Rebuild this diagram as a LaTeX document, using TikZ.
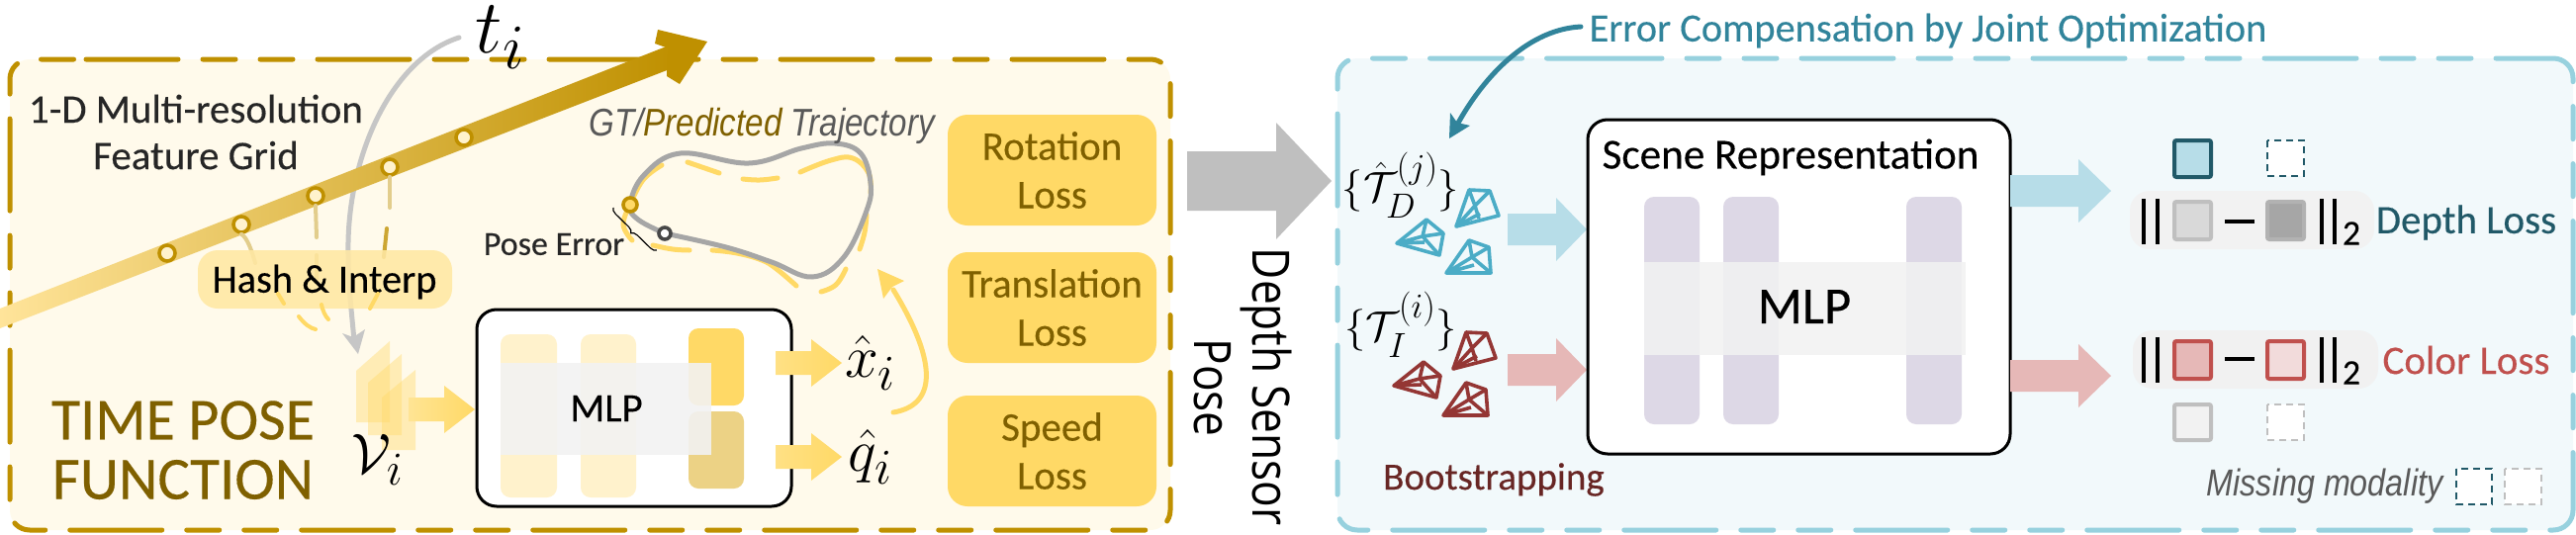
\documentclass[tikz,border=0pt]{standalone}
\usepackage[no-math]{fontspec}
\usepackage{amsmath}
\usepackage{graphicx}
\setmainfont[FakeBold=0.25]{Carlito}
\newfontfamily\narrowit[FakeStretch=0.85]{Liberation Sans}
\newfontfamily\rotfont[FakeStretch=0.85]{Open Sans}
\usetikzlibrary{decorations.pathreplacing,calc}
\definecolor{goldd}{HTML}{BF9000}
\definecolor{goldm}{HTML}{DDBB60}
\definecolor{goldl}{HTML}{FFE49A}
\definecolor{goldt}{HTML}{7F6000}
\definecolor{yel}{HTML}{FFD966}
\definecolor{yell}{HTML}{FFF2CC}
\definecolor{teal}{HTML}{31849B}
\definecolor{tealdk}{HTML}{215968}
\definecolor{tealb}{HTML}{B7DDE8}
\definecolor{teald}{HTML}{97D1DE}
\definecolor{redl}{HTML}{E6B8B7}
\definecolor{redd}{HTML}{C0504D}
\definecolor{camb}{HTML}{4BACC6}
\definecolor{camr}{HTML}{943634}
\definecolor{gryd}{HTML}{595959}
\definecolor{lilac}{HTML}{DDD8E6}
\newcommand{\bigmath}[2]{\scalebox{#1}{\Huge$#2$}}
\tikzset{
  dashgold/.style={line width=2.5pt,line cap=round,dash pattern=on 46.5pt off 12.5pt on 16.5pt off 12.5pt on 16.5pt off 12.5pt},
  lbl/.style={inner sep=0pt,outer sep=0pt,anchor=center},
  dot/.style={circle,draw=goldd,line width=1.8pt,fill=yell,minimum size=8pt,inner sep=0pt},
  tinylink/.style={line width=2pt,line cap=round},
  trajdash/.style={line width=2.5pt,draw=yel,line cap=round},
  camline/.style={line width=1.8pt,line join=round},
  sq/.style={rounded corners=1pt,line width=2pt},
  dsq/.style={line width=1pt,dash pattern=on 3.5pt off 2.5pt,fill=white},
  normbar/.style={line width=2pt,draw=black},
}
% block arrow: x-start, x-neck, x-tip, y-centre, half shaft, half head
\newcommand{\blockarrow}[7][]{%
  \path[#1,shift={(0,#5)}] (#2,-#6) -- (#3,-#6) -- (#3,-#7) -- (#4,0) -- (#3,#7) -- (#3,#6) -- (#2,#6) -- cycle;}
\newcommand{\camera}[3]{%
 \begin{scope}[shift={(#1,#2)},camline,draw=#3]
  \draw (1485,192) -- (1506,193) -- (1515,218) -- (1472,229) -- cycle;
  \draw (1485,192) -- (1491,208) (1506,193) -- (1491,208) (1472,229) -- (1491,208) (1491,208) -- (1495,221) (1472,229) -- (1496,216);
  \draw (1442,222) -- (1459,236) -- (1455,258) -- (1412,246) -- cycle;
  \draw (1442,222) -- (1438,239) (1459,236) -- (1438,239) (1412,246) -- (1438,239) (1438,239) -- (1455,258) (1412,246) -- (1440,245);
  \draw (1485,243) -- (1505,250) -- (1507,276) -- (1462,276) -- cycle;
  \draw (1485,243) -- (1488,260) (1505,250) -- (1488,260) (1462,276) -- (1488,260) (1488,260) -- (1507,276) (1462,276) -- (1490,268);
 \end{scope}}
\begin{document}
\begin{tikzpicture}[x=0.5pt,y=-0.5pt]
\useasboundingbox (0,0) rectangle (2604,541);
% ---- panels
\fill[rounded corners=10pt,fill=yell!40!white] (10,60) rectangle (1183,536);
\draw[dashgold,draw=goldd,rounded corners=10pt] (87,60) -- (1183,60) -- (1183,536) -- (10,536) -- (10,60) -- (87,60);
\fill[rounded corners=10pt,fill=tealb!18!white] (1352,59) rectangle (2601,536);
\draw[dashgold,draw=teald,rounded corners=10pt] (1587,59) -- (2601,59) -- (2601,536) -- (1352,536) -- (1352,59) -- (1587,59);

% ---- t_i input
\node[lbl] (ti) at (506,38) {\bigmath{1.55}{t_i}};
\coordinate (vin) at (362,358);
\draw[draw=gray!45,line width=2.5pt,line cap=round] (464,38) .. controls (395,60) and (350,160) .. (352,257) .. controls (352,290) and (356,320) .. (358,345);
\fill[gray!45] (vin) -- (346,337) -- (357,341) -- (369,333) -- cycle;

% ---- time axis
\shade[left color=goldl,middle color=goldm,right color=goldd] (0,312) -- (676,46) -- (682,68) -- (0,332) -- cycle;
\fill[goldd] (715,42) -- (665,30) -- (662,44) -- (676,49) -- (674,62) -- (674,77) -- (687,85) -- cycle;
\foreach \n/\px/\py in {a/169/256,b/244/227,c/319/198,d/394/169,e/469/139}{
  \node[dot] (\n) at (\px,\py) {};
}
\draw[tinylink,draw=goldd!45!white] (b.south) .. controls (250,240) and (255,255) .. (258,266);
\draw[tinylink,draw=goldd!45!white] (c.south) -- (320,240);
\draw[tinylink,draw=goldd!45!white] (d.south) -- (394,210);
\draw[tinylink,draw=goldd!80!white] (391,231) -- (388,260);
\draw[tinylink,draw=goldd!60!white] (320,258) -- (320,285);

% ---- hash box
\fill[rounded corners=10pt,fill=yel!60!white,fill opacity=.88] (200,253) rectangle (457,312);
\node[lbl] (hash) at (328,285) {\fontsize{20.2}{21}\selectfont Hash \& Interp};
\draw[tinylink,draw=yel] (281,297) -- (287,307);
\draw[tinylink,draw=yel] (382,297) -- (374,312);
\draw[tinylink,draw=yel] (302,320) .. controls (308,328) and (314,332) .. (319,333);
\draw[tinylink,draw=yel] (325,308) .. controls (326,314) and (329,320) .. (332,323);

% ---- captions left
\node[lbl,text=black!85] (g1) at (198,110) {\fontsize{20.5}{21}\selectfont 1-D Multi-resolution};
\node[lbl,text=black!85] (g2) at (198,157) {\fontsize{20.5}{21}\selectfont Feature Grid};
\node[lbl,text=goldt] (f1) at (185,425) {\fontsize{30}{30}\selectfont TIME POSE};
\node[lbl,text=goldt] (f2) at (185,485) {\fontsize{30.5}{30}\selectfont FUNCTION};

% ---- V stack
\fill[yel,opacity=.4] (360,375) -- (394,345) -- (394,427) -- (360,427) -- cycle;
\fill[yel,opacity=.4] (372,387) -- (406,358) -- (406,440) -- (372,440) -- cycle;
\fill[yel,opacity=.4] (386,402) -- (420,374) -- (420,455) -- (386,455) -- cycle;
\node[lbl] (vi) at (382,465) {\bigmath{1.15}{\mathcal{V}_i}};
\blockarrow[left color=yel!70!white,right color=yel]{413}{449}{480}{414}{12}{24}

% ---- time MLP
\draw[fill=white,line width=1.5pt,rounded corners=10pt] (482,313) rectangle (800,512);
\fill[yell,rounded corners=5pt] (506,338) rectangle (563,503);
\fill[yell,rounded corners=5pt] (587,338) rectangle (643,503);
\fill[yel,rounded corners=5pt] (696,332) rectangle (752,410);
\fill[yel!50!goldd!60!white,rounded corners=5pt] (696,416) rectangle (752,494);
\fill[gray!10,fill opacity=.9] (506,367) rectangle (719,460);
\node[lbl] (tmlp) at (613,413) {\fontsize{20.5}{21}\selectfont MLP};
\blockarrow[left color=yel!80!white,right color=yel]{784}{820}{851}{367}{12}{24}
\blockarrow[left color=yel!80!white,right color=yel]{784}{820}{851}{462}{12}{24}
\node[lbl] (xh) at (880,367) {\bigmath{1.22}{\hat{x}_i}};
\node[lbl] (qh) at (880,462) {\bigmath{1.22}{\hat{q}_i}};

% ---- trajectory
\draw[trajdash] plot[smooth,tension=.7] coordinates {(637,207) (630,227) (639,243)};
\draw[trajdash] plot[smooth,tension=.7] coordinates {(637,207) (650,182) (669,167)};
\draw[trajdash] (695,164) -- (727,175);
\draw[trajdash] plot[smooth,tension=.7] coordinates {(751,181) (768,182) (786,180)};
\draw[trajdash] plot[smooth,tension=.7] coordinates {(809,174) (840,162) (862,160) (878,175) (880,195)};
\draw[trajdash] plot[smooth,tension=.7] coordinates {(876,217) (874,235) (869,252)};
\draw[trajdash] plot[smooth,tension=.7] coordinates {(855,272) (845,288) (830,295)};
\draw[trajdash] plot[smooth,tension=.7] coordinates {(805,289) (785,272) (770,263) (745,256) (720,253)};
\draw[trajdash] plot[smooth,tension=.7] coordinates {(697,253) (680,252) (660,248)};
\draw[line width=2.5pt,draw=gray!70] plot[smooth,tension=.65] coordinates {(672,236) (645,222) (637,207) (651,177) (688,155) (757,165) (810,150) (844,145) (870,155) (880,185) (876,213) (853,260) (821,280) (780,265) (734,250) (672,236)};
\node[circle,draw=goldd,line width=1.8pt,fill=yel,minimum size=7pt,inner sep=0pt] (gp) at (637,207) {};
\node[circle,draw=gryd!80!black,line width=1.8pt,fill=white,minimum size=6pt,inner sep=0pt] (pp) at (672,236) {};
\draw[decorate,decoration={brace,amplitude=3pt,mirror},line width=.6pt] (620,210) -- (664,253);
\node[lbl,text=black!85] (perr) at (560,247) {\fontsize{17}{18}\selectfont Pose Error};
\node[lbl] (gt) at (770,127) {\fontsize{19.5}{20}\selectfont\narrowit\itshape\textcolor{gryd}{GT/}\textcolor{goldt}{Predicted} \textcolor{gryd}{Trajectory}};

% ---- losses
\coordinate (qout) at (903,417);
\coordinate (trj) at (887,272);
\draw[draw=yel,line width=2.5pt,line cap=round] (qout) .. controls (945,410) and (950,370) .. (903,293);
\fill[yel] (trj) -- (914,284) -- (902,290) -- (893,302) -- cycle;
\foreach \n/\ya/\yb/\ta/\tb in {rot/116/228/Rotation/Loss,tra/255/367/Translation/Loss,spd/400/512/Speed/Loss}{
  \fill[yel,rounded corners=10pt] (958,\ya) rectangle (1169,\yb);
  \node[lbl,text=goldt,align=center,font=\fontsize{20.5}{24.5}\selectfont] (\n) at ($(958,\ya)!.5!(1169,\yb)$) {\ta\\\tb};
}

% ---- depth sensor pose
\blockarrow[fill=gray!50]{1200}{1290}{1346}{183}{30}{59}
\node[lbl,rotate=-90,text=black] (dsp) at (1280,391) {\fontsize{26}{26}\rotfont Depth Sensor};
\node[lbl,rotate=-90,text=black] (pose) at (1226,392) {\fontsize{26}{26}\rotfont Pose};

% ---- error compensation
\node[lbl,text=teal] (ec) at (1949,31) {\fontsize{20.2}{21}\selectfont Error Compensation by Joint Optimization};
\draw[draw=teal,line width=2.5pt,line cap=round] (1598,27) .. controls (1540,30) and (1495,85) .. (1472,128);
\fill[teal] (1465,140) -- (1466,114) -- (1473,124) -- (1486,127) -- cycle;

% ---- pose sets
\node[lbl] (td) at (1416,187) {\bigmath{.85}{\{\hat{\mathcal{T}}_D^{(j)}\}}};
\node[lbl] (ti2) at (1416,328) {\bigmath{.85}{\{\mathcal{T}_I^{(i)}\}}};
\camera{0}{0}{camb}
\camera{-3}{144}{camr}
\node[lbl,text=camr!70!black] (boot) at (1510,485) {\fontsize{19.5}{20}\selectfont Bootstrapping};
\blockarrow[fill=tealb]{1524}{1573}{1604}{232}{16}{32}
\blockarrow[fill=redl]{1524}{1573}{1604}{374}{16}{32}

% ---- scene representation
\draw[fill=white,line width=1.5pt,rounded corners=10pt] (1605,121) rectangle (2032,459);
\node[lbl] (sr) at (1810,159) {\fontsize{21.6}{22}\selectfont Scene Representation};
\foreach \xa/\xb in {1662/1718,1742/1798,1927/1983}{
  \fill[lilac,rounded corners=5pt] (\xa,199) rectangle (\xb,429);
}
\fill[gray!10,fill opacity=.85] (1662,265) rectangle (1987,359);
\node[lbl] (smlp) at (1824,310) {\fontsize{26.4}{27}\selectfont MLP};
\blockarrow[fill=tealb]{2032}{2101}{2134}{193}{16}{32}
\blockarrow[fill=redl]{2032}{2101}{2134}{380}{16}{32}

% ---- depth loss
\fill[gray!10,rounded corners=10pt] (2153,193) rectangle (2400,252);
\fill[redl!15!gray!12,rounded corners=10pt] (2156,334) rectangle (2404,393);
\draw[sq,fill=tealb,draw=tealdk] (2198,142) rectangle (2235,179);
\draw[dsq,draw=tealdk] (2292,142) rectangle (2329,178);
\draw[normbar] (2167,201) -- (2167,247) (2181,201) -- (2181,247) (2347,201) -- (2347,247) (2360,201) -- (2360,247);
\draw[sq,fill=gray!30,draw=gray!50] (2198,204) rectangle (2235,242);
\draw[sq,fill=gray!70,draw=gray!60] (2292,204) rectangle (2329,242);
\draw[normbar] (2249,224) -- (2279,224);
\node[lbl] (two1) at (2377,236) {\fontsize{18}{18}\selectfont 2};
\node[lbl,text=tealdk] (dl) at (2493,225) {\fontsize{20.5}{21}\selectfont Depth Loss};
% ---- color loss
\draw[normbar] (2167,341) -- (2167,387) (2181,341) -- (2181,387) (2347,341) -- (2347,387) (2360,341) -- (2360,387);
\draw[sq,fill=redl,draw=redd] (2198,345) rectangle (2235,383);
\draw[sq,fill=redl!50!white,draw=redd] (2292,345) rectangle (2329,383);
\draw[normbar] (2249,363) -- (2279,363);
\node[lbl] (two2) at (2377,377) {\fontsize{18}{18}\selectfont 2};
\node[lbl,text=redd] (cl) at (2493,364) {\fontsize{20.5}{21}\selectfont Color Loss};
\draw[sq,fill=gray!10,draw=gray!50] (2198,409) rectangle (2235,445);
\draw[dsq,draw=gray!50] (2292,409) rectangle (2329,445);
% ---- legend
\node[lbl] (mm) at (2350,492) {\fontsize{19}{20}\selectfont\narrowit\itshape\textcolor{gryd}{Missing modality}};
\draw[dsq,draw=tealdk] (2483,474) rectangle (2519,510);
\draw[dsq,draw=gray!50] (2532,474) rectangle (2569,510);
\end{tikzpicture}
\end{document}
